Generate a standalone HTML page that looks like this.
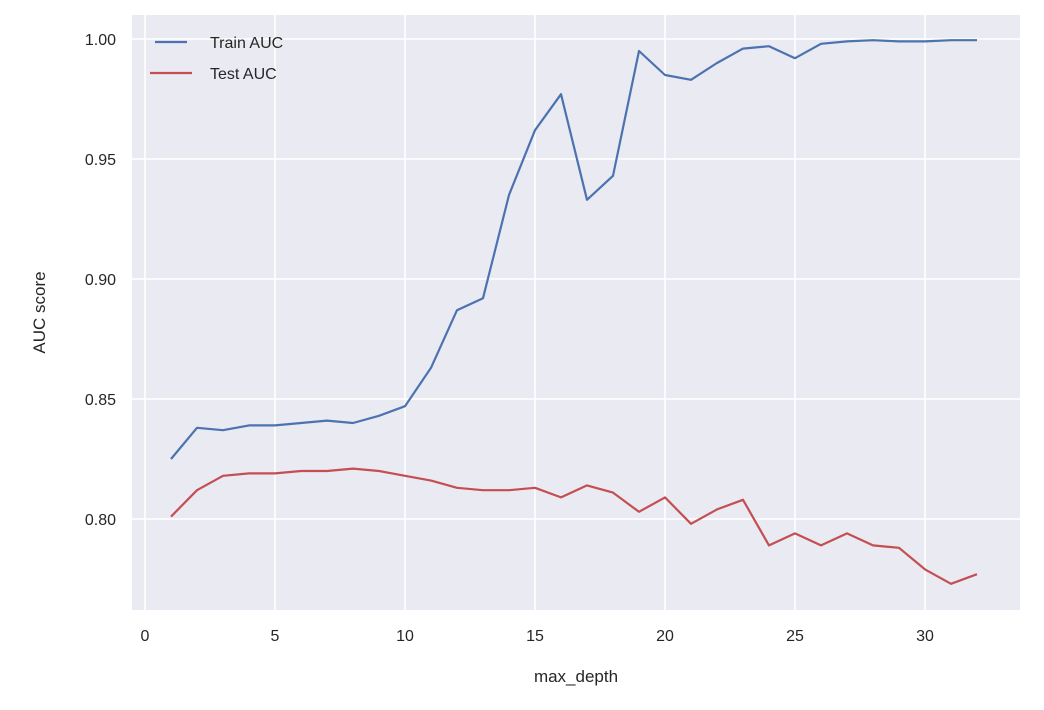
<!DOCTYPE html>
<html><head><meta charset="utf-8"><style>
body{margin:0;background:#fff;}
svg{display:block;font-family:"Liberation Sans",sans-serif;}
</style></head><body>
<svg id="chart" width="1044" height="710"></svg>
<script>
const depths=[1,2,3,4,5,6,7,8,9,10,11,12,13,14,15,16,17,18,19,20,21,22,23,24,25,26,27,28,29,30,31,32];
const trainAUC=[0.825,0.838,0.837,0.839,0.839,0.840,0.841,0.840,0.843,0.847,0.863,0.887,0.892,0.935,0.962,0.977,0.933,0.943,0.995,0.985,0.983,0.990,0.996,0.997,0.992,0.998,0.999,0.9995,0.999,0.999,0.9995,0.9995];
const testAUC=[0.801,0.812,0.818,0.819,0.819,0.820,0.820,0.821,0.820,0.818,0.816,0.813,0.812,0.812,0.813,0.809,0.814,0.811,0.803,0.809,0.798,0.804,0.808,0.789,0.794,0.789,0.794,0.789,0.788,0.779,0.773,0.777];
const xTicks=[0,5,10,15,20,25,30];
const yTicks=[0.80,0.85,0.90,0.95,1.00];
const yTickLabels=["0.80","0.85","0.90","0.95","1.00"];

const NS="http://www.w3.org/2000/svg";
const svg=document.getElementById('chart');
const L=132,R=1020,T=15,B=610;
const xs=v=>145+(v-0)*26;
const ys=v=>519-(v-0.80)*2400;
function mk(tag,attrs,parent){const e=document.createElementNS(NS,tag);for(const k in attrs)e.setAttribute(k,attrs[k]);(parent||svg).appendChild(e);return e;}

const bg=mk('rect',{x:L,y:T,width:R-L,height:B-T,fill:'#eaeaf2'});



xTicks.forEach(t=>{
  const g=mk('line',{x1:xs(t),x2:xs(t),y1:T,y2:B,stroke:'#fff','stroke-width':1.6});
  
  
  const tx=mk('text',{x:xs(t),y:B+31,'text-anchor':'middle','font-size':16,fill:'#262626'});
  tx.textContent=String(t);
  
  
});
yTicks.forEach((t,i)=>{
  const g=mk('line',{x1:L,x2:R,y1:ys(t),y2:ys(t),stroke:'#fff','stroke-width':1.6});
  
  
  const tx=mk('text',{x:L-16,y:ys(t)+6,'text-anchor':'end','font-size':16,fill:'#262626'});
  tx.textContent=yTickLabels[i];
  
  
});

function line(vals,color,name){
  const d=vals.map((v,i)=>(i?'L':'M')+xs(depths[i]).toFixed(1)+','+ys(v).toFixed(1)).join(' ');
  const p=mk('path',{d:d,fill:'none',stroke:color,'stroke-width':2.2,'stroke-linejoin':'round'});
  
  
}
line(trainAUC,'#4c72b0','train-auc-line');
line(testAUC,'#c44e52','test-auc-line');

const lg=mk('g',{});


mk('line',{x1:155,x2:187,y1:42,y2:42,stroke:'#4c72b0','stroke-width':2.2},lg);
const t1=mk('text',{x:210,y:48,'font-size':16,fill:'#262626'},lg);t1.textContent='Train AUC';


mk('line',{x1:150,x2:192,y1:73,y2:73,stroke:'#c44e52','stroke-width':2.2},lg);
const t2=mk('text',{x:210,y:79,'font-size':16,fill:'#262626'},lg);t2.textContent='Test AUC';



const xt=mk('text',{x:(L+R)/2,y:682,'text-anchor':'middle','font-size':17,fill:'#262626'});
xt.textContent='max_depth';


const yt=mk('text',{x:0,y:0,'text-anchor':'middle','font-size':17,fill:'#262626',transform:'translate(45,'+((T+B)/2)+') rotate(-90)'});
yt.textContent='AUC score';


</script>
</body></html>
